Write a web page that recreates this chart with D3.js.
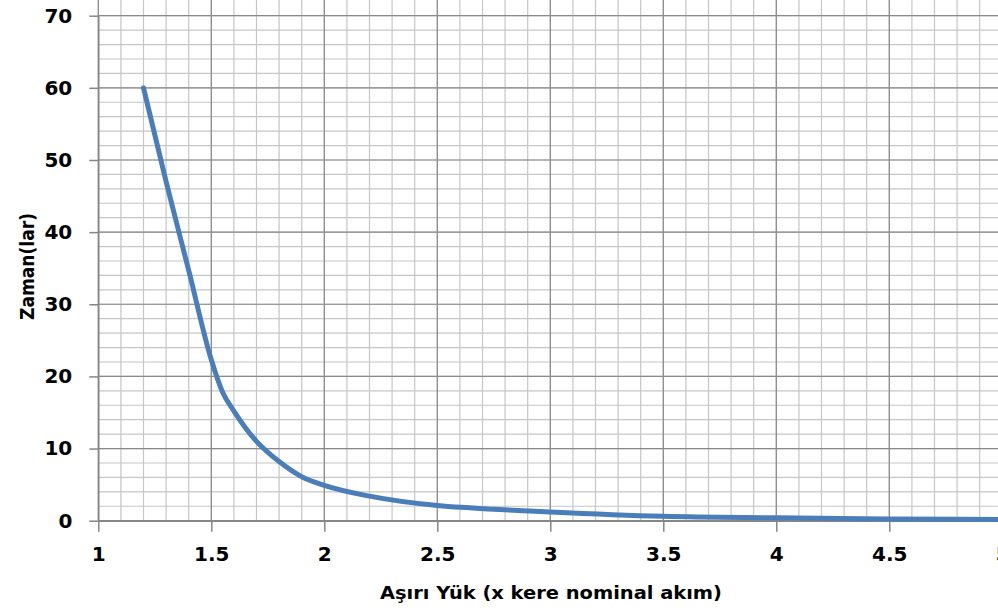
<!DOCTYPE html>
<html>
<head>
<meta charset="utf-8">
<script src="https://cdn.jsdelivr.net/npm/d3@7"></script>
<style>
  html, body { margin: 0; padding: 0; background: #fff; overflow: hidden; }
  text { font-family: "DejaVu Sans", sans-serif; font-weight: bold; fill: #000; }
</style>
</head>
<body>
<svg id="chart" width="998" height="610"></svg>
<script>
// overload multiple vs. time
var loadX = [1.2, 1.3, 1.4, 1.5, 1.55, 1.6, 1.7, 1.8, 1.9, 2, 2.2, 2.5, 2.75, 3, 3.5, 4, 4.5, 5];
var timeY = [60, 47, 34.7, 22.3, 17.8, 15.2, 11, 8.2, 6.1, 4.9, 3.4, 2.1, 1.6, 1.2, 0.6, 0.4, 0.25, 0.15];
var xTicks = [1, 1.5, 2, 2.5, 3, 3.5, 4, 4.5, 5];
var yTicks = [0, 10, 20, 30, 40, 50, 60, 70];
var xTitle = "Aşırı Yük (x kere nominal akım)";
var yTitle = "Zaman(lar)";

var svg = d3.select("#chart");
var x = d3.scaleLinear().domain([1, 5]).range([98.3, 1002.3]);
var y = d3.scaleLinear().domain([0, 70]).range([520.7, 15.7]);
var left = x(1), bottom = y(0), top = y(70), right = x(5);

var xMinor = d3.range(0, 41).map(function(i) { return 1 + i / 10; });
var yMinor = d3.range(0, 36).map(function(i) { return i * 2; });

// minor grid
var grid = svg.append("g");
grid.selectAll("line.vmin").data(xMinor).enter().append("line")
  .attr("x1", function(d) { return x(d); }).attr("x2", function(d) { return x(d); })
  .attr("y1", top).attr("y2", bottom)
  .attr("stroke", "#c6c6c6").attr("stroke-width", 1.2);
grid.selectAll("line.hmin").data(yMinor).enter().append("line")
  .attr("x1", left).attr("x2", right)
  .attr("y1", function(d) { return y(d); }).attr("y2", function(d) { return y(d); })
  .attr("stroke", "#c6c6c6").attr("stroke-width", 1.2);

// major grid
grid.selectAll("line.vmaj").data(xTicks).enter().append("line")
  .attr("x1", function(d) { return x(d); }).attr("x2", function(d) { return x(d); })
  .attr("y1", top).attr("y2", bottom)
  .attr("stroke", "#8a8a8a").attr("stroke-width", 1.2);
grid.selectAll("line.hmaj").data(yTicks).enter().append("line")
  .attr("x1", left).attr("x2", right)
  .attr("y1", function(d) { return y(d); }).attr("y2", function(d) { return y(d); })
  .attr("stroke", "#8a8a8a").attr("stroke-width", 1.2);

// axes
var xAxis = d3.axisBottom(x).tickValues(xTicks).tickSizeInner(11).tickSizeOuter(0).tickPadding(15)
  .tickFormat(d3.format("~g"));
var yAxis = d3.axisLeft(y).tickValues(yTicks).tickSizeInner(9).tickSizeOuter(0).tickPadding(17)
  .tickFormat(d3.format("d"));

var gx = svg.append("g").attr("transform", "translate(0," + bottom + ")").call(xAxis);
var gy = svg.append("g").attr("transform", "translate(" + left + ",0)").call(yAxis);
[gx, gy].forEach(function(g) {
  g.select(".domain").attr("stroke", "#868686").attr("stroke-width", 1.5);
  g.selectAll(".tick line").attr("stroke", "#868686").attr("stroke-width", 1.5);
  g.selectAll(".tick text").attr("font-family", "DejaVu Sans").attr("font-weight", "bold")
    .attr("font-size", 20).attr("fill", "#000");
});

// curve
var line = d3.line()
  .x(function(d, i) { return x(loadX[i]); })
  .y(function(d) { return y(d); })
  .curve(d3.curveMonotoneX);
svg.append("path").datum(timeY)
  .attr("d", line)
  .attr("fill", "none")
  .attr("stroke", "#4a7ebb")
  .attr("stroke-width", 5)
  .attr("stroke-linecap", "round")
  .attr("stroke-linejoin", "round");

// titles
svg.append("text")
  .attr("x", 551).attr("y", 599)
  .attr("text-anchor", "middle")
  .attr("font-size", 18)
  .attr("textLength", 342).attr("lengthAdjust", "spacingAndGlyphs")
  .text(xTitle);
svg.append("text")
  .attr("transform", "translate(34,266.5) rotate(-90)")
  .attr("text-anchor", "middle")
  .attr("font-size", 19)
  .attr("textLength", 107).attr("lengthAdjust", "spacingAndGlyphs")
  .text(yTitle);
</script>
</body>
</html>
